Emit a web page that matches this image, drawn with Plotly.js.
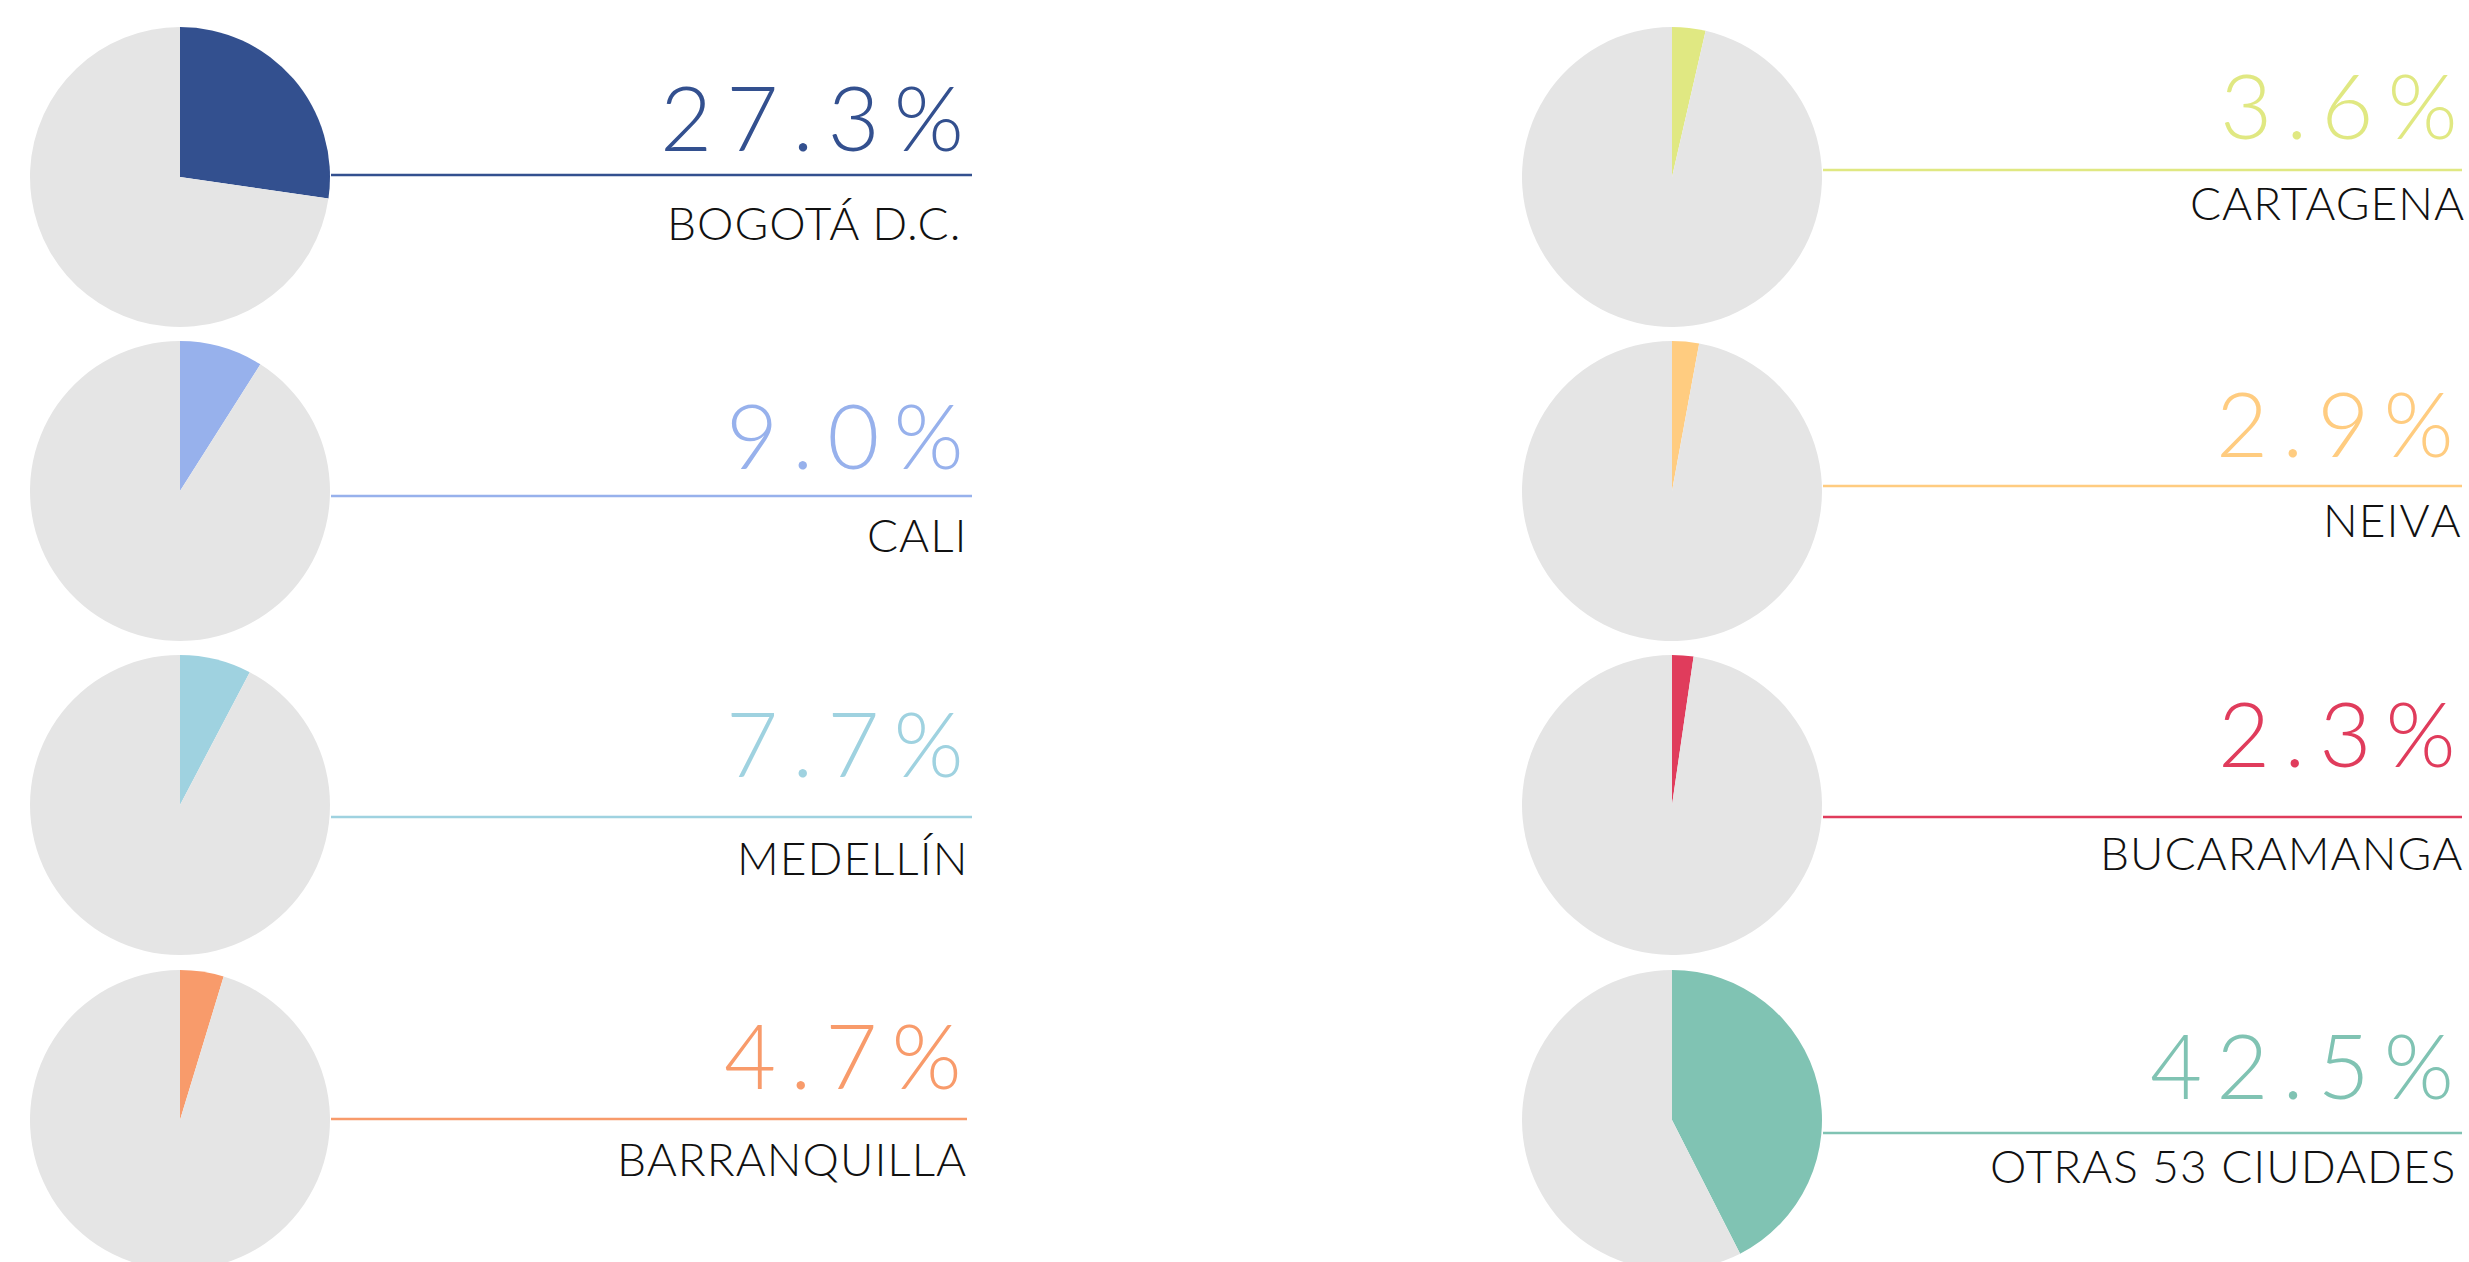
<!DOCTYPE html>
<html><head><meta charset="utf-8">
<script src="https://cdn.plot.ly/plotly-3.0.1.min.js"></script>
<style>
html,body{margin:0;padding:0;background:#fff;overflow:hidden;}
</style></head>
<body><div id="chart" style="width:2469px;height:1272px"></div>
<script>
// ---- data ----
const cities = ['BOGOTÁ D.C.', 'CALI', 'MEDELLÍN', 'BARRANQUILLA', 'CARTAGENA', 'NEIVA', 'BUCARAMANGA', 'OTRAS 53 CIUDADES'];
const shares = [27.3, 9.0, 7.7, 4.7, 3.6, 2.9, 2.3, 42.5];
const colors = ['#33508f', '#97b1ec', '#9fd2e0', '#f89b6b', '#e0e882', '#ffcc80', '#e03c5c', '#80c3b3'];
const restColor = '#e5e5e5';

// ---- layout (pixel positions of each panel) ----
const W = 2469, H = 1272, R = 150;
const pieCx = [180, 180, 180, 180, 1672, 1672, 1672, 1672];
const pieCy = [177, 491, 805, 1120, 177, 491, 805, 1120];
const lineY = [175, 496, 817, 1119, 170, 486, 817, 1133];
const lineX1 = [972, 972, 972, 967, 2462, 2462, 2462, 2462];
const pctBase = [152, 470, 778, 1090, 140, 458, 768, 1100];
const pctRight = [962, 962, 962, 960, 2456, 2452, 2454, 2452];
const labTop = [206, 518, 841, 1142, 186, 503, 836, 1149];
const labRight = [960, 967, 967, 966, 2464, 2461, 2462, 2455];

const px = x => x / W;
const py = y => 1 - y / H;

// spaced text: letter-spacing on all characters except the last one
const spaced = (s, ls) => '<span style="letter-spacing:' + ls + 'px">' + s.slice(0, -1) + '</span>' + s.slice(-1);

const traces = cities.map((c, i) => ({
  type: 'pie',
  values: [shares[i], 100 - shares[i]],
  labels: [c, 'Resto'],
  marker: {colors: [colors[i], restColor], line: {width: 0}},
  sort: false,
  direction: 'clockwise',
  rotation: 0,
  textinfo: 'none',
  hoverinfo: 'label+percent',
  showlegend: false,
  domain: {
    x: [px(pieCx[i] - R), px(pieCx[i] + R)],
    y: [py(pieCy[i] + R), py(pieCy[i] - R)]
  }
}));

const shapes = cities.map((c, i) => ({
  type: 'line', xref: 'paper', yref: 'paper',
  x0: px(pieCx[i] + R + 1), x1: px(lineX1[i]),
  y0: py(lineY[i]), y1: py(lineY[i]),
  line: {color: colors[i], width: 2.5}
}));

const annotations = [];
cities.forEach((c, i) => {
  annotations.push({
    xref: 'paper', yref: 'paper', showarrow: false,
    x: px(pctRight[i] + 4), y: py(pctBase[i] + 20),
    xanchor: 'right', yanchor: 'bottom',
    text: spaced(shares[i].toFixed(1) + '%', 14),
    font: {family: 'Lato, "Open Sans", sans-serif', size: 90, weight: 300, color: colors[i]}
  });
  annotations.push({
    xref: 'paper', yref: 'paper', showarrow: false,
    x: px(labRight[i] + 2), y: py(labTop[i] - 13),
    xanchor: 'right', yanchor: 'top',
    text: spaced(c, 1),
    font: {family: 'Lato, "Open Sans", sans-serif', size: 46, weight: 300, color: '#111111'}
  });
});

const layout = {
  width: W, height: H,
  margin: {l: 0, r: 0, t: 0, b: 0},
  paper_bgcolor: '#ffffff',
  plot_bgcolor: '#ffffff',
  showlegend: false,
  shapes: shapes,
  annotations: annotations
};

Plotly.newPlot('chart', traces, layout, {displayModeBar: false, staticPlot: false});
</script>
</body></html>
